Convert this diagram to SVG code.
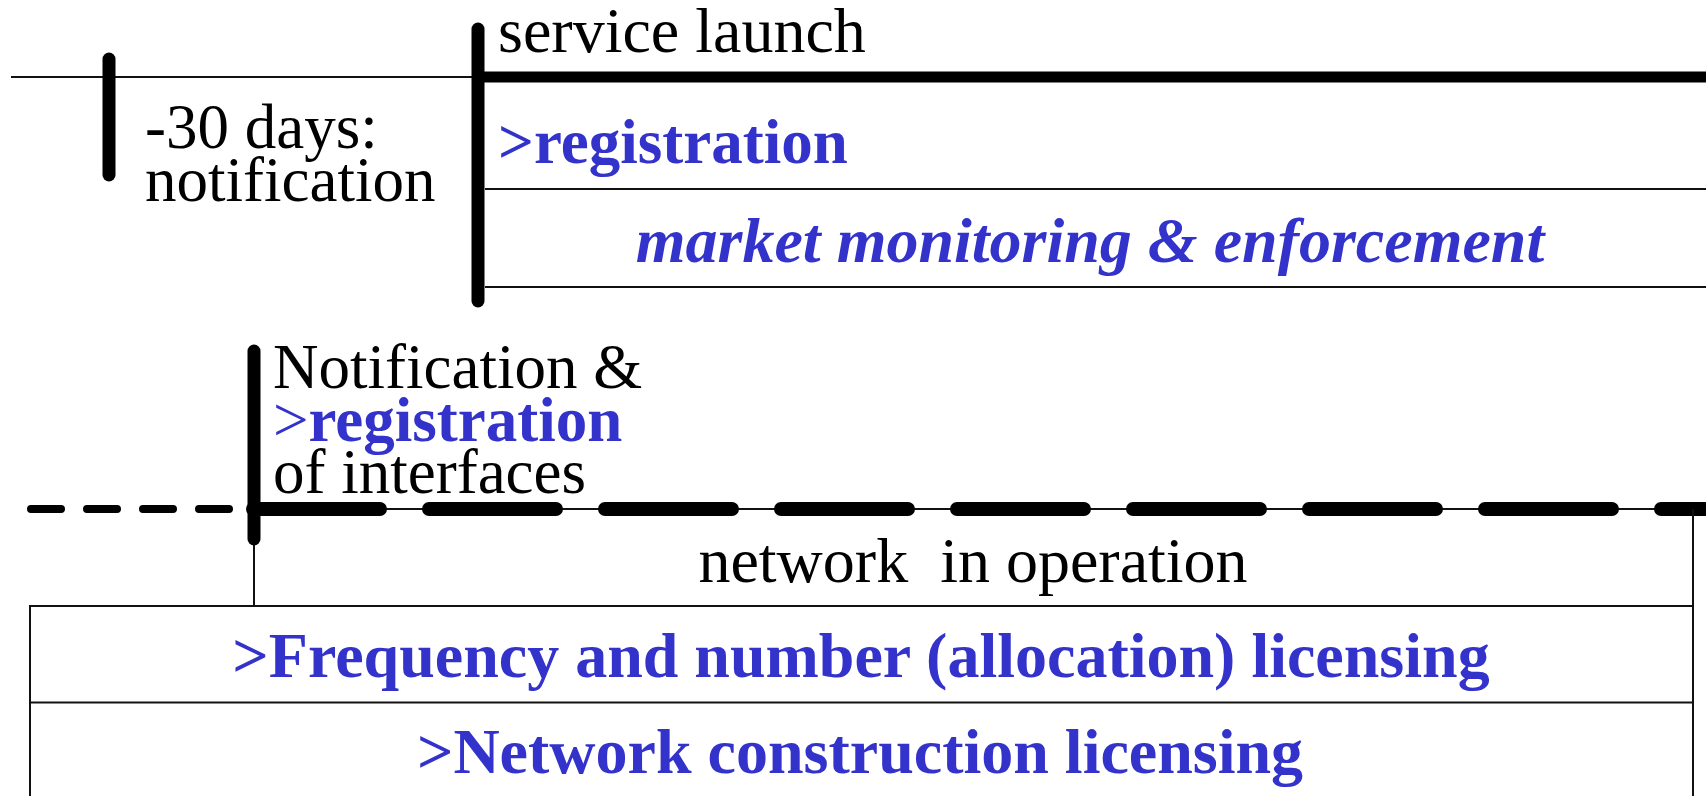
<svg xmlns="http://www.w3.org/2000/svg" width="1706" height="796" viewBox="0 0 1706 796">
  <style>
    .txt { font-family: "Liberation Serif", "Times New Roman", serif; font-size: 63px; fill: #000; }
    .big { font-size: 64px; }
    .blue { fill: #3333CC; }
    .b { font-weight: bold; }
    .bi { font-weight: bold; font-style: italic; }
    .thin { stroke: #111; stroke-width: 2; fill: none; }
    .bar { stroke: #000; stroke-width: 13; stroke-linecap: round; fill: none; }
  </style>
  <rect width="1706" height="796" fill="#fff"/>

  <!-- timeline lines and frames -->
  <g id="connectors">
    <!-- upper timeline -->
    <line class="thin" x1="11" y1="77" x2="478" y2="77"/>
    <line x1="478" y1="77" x2="1706" y2="77" stroke="#000" stroke-width="11"/>
    <line class="thin" x1="485" y1="189" x2="1706" y2="189"/>
    <line class="thin" x1="485" y1="287" x2="1706" y2="287"/>

    <!-- lower timeline -->
    <line x1="31" y1="509" x2="232" y2="509" stroke="#000" stroke-width="8" stroke-linecap="round" stroke-dasharray="30 26"/>
    <line class="thin" x1="253" y1="509" x2="1706" y2="509"/>
    <line x1="253" y1="509" x2="1720" y2="509" stroke="#000" stroke-width="14" stroke-linecap="round" stroke-dasharray="127 49"/>

    <!-- network in operation frame -->
    <line class="thin" x1="254" y1="539" x2="254" y2="606"/>
    <line class="thin" x1="1693" y1="509" x2="1693" y2="796"/>
    <line class="thin" x1="254" y1="606" x2="1693" y2="606"/>

    <!-- licensing frame -->
    <polyline class="thin" points="30,796 30,606 254,606"/>
    <line class="thin" x1="30" y1="702.5" x2="1693" y2="702.5"/>
  </g>

  <g id="milestone-notification">
    <line class="bar" x1="109" y1="59" x2="109" y2="175"/>
    <text class="txt" x="145" y="148">-30 days:</text>
    <text class="txt" x="145" y="201">notification</text>
  </g>

  <g id="milestone-launch">
    <line class="bar" x1="478" y1="29" x2="478" y2="301"/>
    <text class="txt big" x="498" y="52">service launch</text>
  </g>

  <g id="registration">
    <text class="txt blue b" x="498" y="163">&gt;registration</text>
  </g>

  <g id="market-monitoring">
    <text class="txt blue bi big" x="1090" y="262" text-anchor="middle">market monitoring &amp; enforcement</text>
  </g>

  <g id="milestone-interfaces">
    <line class="bar" x1="254" y1="351" x2="254" y2="539" stroke-width="12"/>
    <text class="txt" x="273" y="388">Notification &amp;</text>
    <text class="txt" x="273" y="441"><tspan class="blue">&gt;</tspan><tspan class="blue b">registration</tspan></text>
    <text class="txt" x="273" y="493">of interfaces</text>
  </g>

  <g id="network-operation">
    <text class="txt big" x="973" y="582" text-anchor="middle" style="white-space:pre">network  in operation</text>
  </g>

  <g id="frequency-licensing">
    <text class="txt blue b big" x="861" y="677" text-anchor="middle">&gt;Frequency and number (allocation) licensing</text>
  </g>

  <g id="construction-licensing">
    <text class="txt blue b big" x="860" y="773" text-anchor="middle">&gt;Network construction licensing</text>
  </g>
</svg>
